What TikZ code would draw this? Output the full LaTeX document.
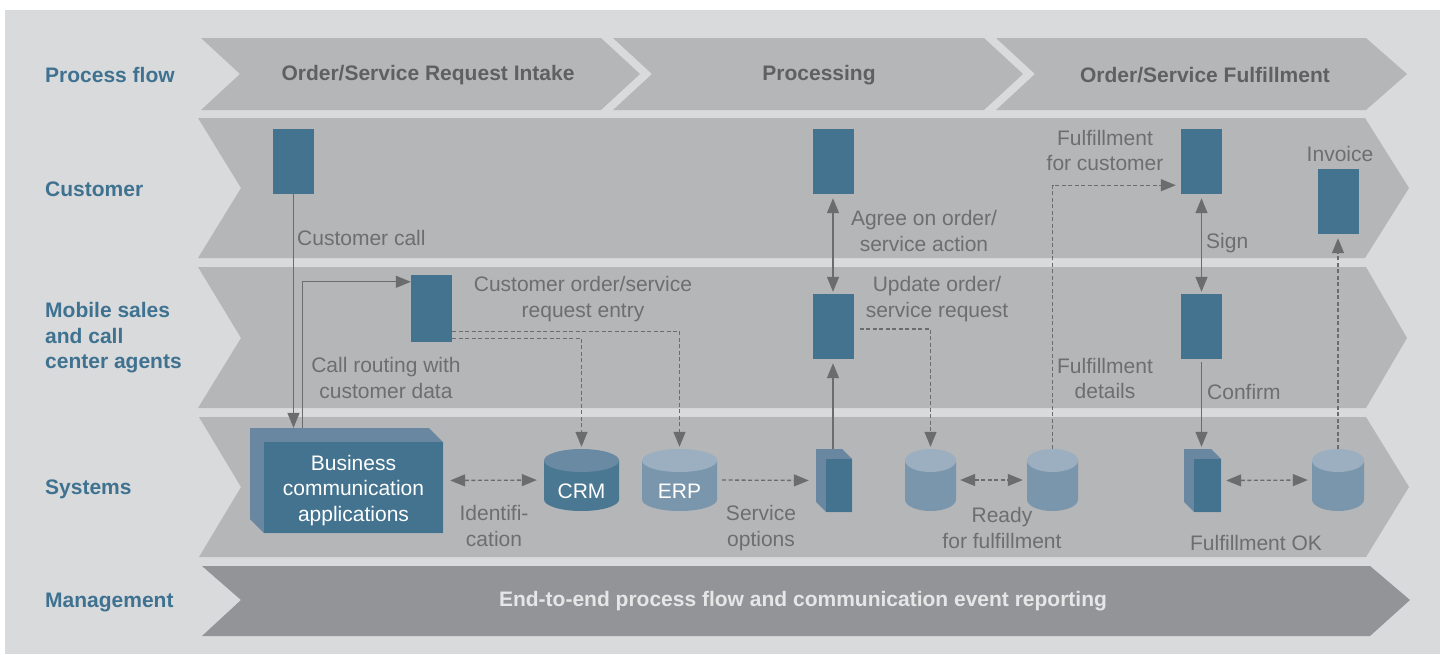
\documentclass[tikz,border=0pt]{standalone}
\usepackage{fontspec}
\setmainfont{Liberation Sans}
\usetikzlibrary{arrows.meta,calc}
\definecolor{bgc}{HTML}{D9DADC}
\definecolor{lanec}{HTML}{B5B6B8}
\definecolor{mgmtc}{HTML}{939497}
\definecolor{tealc}{HTML}{3F7290}
\definecolor{headc}{HTML}{5F6062}
\definecolor{notec}{HTML}{6D6E70}
\definecolor{boxc}{HTML}{43738F}
\definecolor{sidec}{HTML}{6987A1}
\definecolor{crmbody}{HTML}{4A7791}
\definecolor{crmtop}{HTML}{6A8AA4}
\definecolor{dbbody}{HTML}{7A96AD}
\definecolor{dbtop}{HTML}{9CAFC1}
\definecolor{linec}{HTML}{6B6C6E}
\definecolor{mgmttext}{HTML}{E6E6E7}
\newcommand\lblfont{\fontsize{21}{25.5}\selectfont}
\newcommand\cylshape[5]{% cx, half width, body, top
  \fill[#3] (#1-#2,460.5) -- (#1-#2,499.5) arc[start angle=180,end angle=360,x radius=#2pt,y radius=11.5pt] -- (#1+#2,460.5) -- cycle;
  \fill[#4] (#1,460.5) ellipse[x radius=#2pt,y radius=11.5pt];
}
\begin{document}
\begin{tikzpicture}[x=1pt,y=-1pt,
  >={Triangle[length=15pt,width=12pt]},
  lane/.style={fill=lanec},
  rowlbl/.style={anchor=west,text=tealc,font=\bfseries\lblfont,align=left,inner sep=0},
  head/.style={text=headc,font=\bfseries\lblfont,inner sep=0},
  note/.style={text=notec,font=\lblfont,align=center,inner sep=0},
  actbox/.style={fill=boxc,minimum width=41pt,minimum height=65pt,inner sep=0},
  hold/.style={inner sep=0,minimum width=#1},
  conn/.style={draw=linec,line width=1.3pt,->},
  conn2/.style={draw=linec,line width=1.3pt,<->},
  dconn/.style={conn,dash pattern=on 4pt off 2.5pt},
  dconn2/.style={conn2,dash pattern=on 4pt off 2.5pt}]
\useasboundingbox (0,0) rectangle (1440,654);
\fill[bgc] (5,10) rectangle (1440,654);

% process flow chevrons
\fill[lane] (201,38) -- (601,38) -- (640,74) -- (601,110) -- (201,110) -- (240,74) -- cycle;
\fill[lane] (613,38) -- (984,38) -- (1023,74) -- (984,110) -- (613,110) -- (652,74) -- cycle;
\fill[lane] (996,38) -- (1366,38) -- (1407,74) -- (1366,110) -- (996,110) -- (1035,74) -- cycle;
% lanes
\fill[lane] (198,118) -- (1365,118) -- (1409,188) -- (1365,258) -- (198,258) -- (241,188) -- cycle;
\fill[lane] (198,267) -- (1366,267) -- (1407,338) -- (1366,408) -- (198,408) -- (241,338) -- cycle;
\fill[lane] (199,417) -- (1366,417) -- (1409,487) -- (1366,557) -- (199,557) -- (241,487) -- cycle;
\fill[mgmtc] (202,566) -- (1370,566) -- (1410,600) -- (1370,636) -- (202,636) -- (241,600) -- cycle;

% row labels
\node[rowlbl] (lpf) at (45,75) {Process flow};
\node[rowlbl] (lcu) at (45,189) {Customer};
\node[rowlbl] (lmo) at (45,338) {Mobile sales\\and call\\center agents};
\node[rowlbl] (lsy) at (45,489) {Systems};
\node[rowlbl] (lma) at (45,602) {Management};

% headers
\node[head] (h1) at (428,75) {Order/Service Request Intake};
\node[head] (h2) at (819,75) {Processing};
\node[head] (h3) at (1205,75) {Order/Service Fulfillment};
\node[text=mgmttext,font=\bfseries\lblfont,inner sep=0] (mg) at (803,601) {End-to-end process flow and communication event reporting};

% activity boxes
\node[actbox] (c1) at (293.5,161.5) {};
\node[actbox] (c2) at (833,161.5) {};
\node[actbox] (c3) at (1201.5,161.5) {};
\node[actbox] (c4) at (1338,201.5) {};
\node[actbox,minimum height=67pt] (m1) at (431.5,308.5) {};
\node[actbox] (m2) at (833,326.5) {};
\node[actbox] (m3) at (1201.5,326.5) {};

% business communication applications (3D box)
\fill[sidec] (250,428) -- (429,428) -- (443,442) -- (443,533) -- (264,533) -- (250,519) -- cycle;
\fill[boxc] (264,442) rectangle (443,533);
\node[hold=193pt,minimum height=105pt] (bca) at (346.5,480.5) {};
\node[text=white,font=\lblfont,align=center,inner sep=0,text depth=0pt] (bcat) at (353.5,488) {Business\\communication\\applications};

% small system boxes
\fill[sidec] (816,449) -- (842,449) -- (852,459) -- (852,512) -- (826,512) -- (816,502) -- cycle;
\fill[boxc] (826,459) rectangle (852,512);
\node[hold=36pt,minimum height=63pt] (psys) at (834,480.5) {};
\fill[sidec] (1184,449) -- (1211,449) -- (1221,459) -- (1221,512) -- (1194,512) -- (1184,502) -- cycle;
\fill[boxc] (1194,459) rectangle (1221,512);
\node[hold=37pt,minimum height=63pt] (fsys) at (1202.5,480.5) {};

% cylinders
\cylshape{581.5}{37.5}{crmbody}{crmtop}{}
\node[hold=75pt,minimum height=62pt] (crm) at (581.5,480) {};
\node[text=white,font=\lblfont,inner sep=0] (crmt) at (581.5,491) {CRM};
\cylshape{679.5}{37.5}{dbbody}{dbtop}{}
\node[hold=75pt,minimum height=62pt] (erp) at (679.5,480) {};
\node[text=white,font=\lblfont,inner sep=0] (erpt) at (679.5,491) {ERP};
\cylshape{930.5}{25.5}{dbbody}{dbtop}{}
\node[hold=51pt,minimum height=62pt] (cy3) at (930.5,480) {};
\cylshape{1052.5}{25.5}{dbbody}{dbtop}{}
\node[hold=51pt,minimum height=62pt] (cy4) at (1052.5,480) {};
\cylshape{1338}{26}{dbbody}{dbtop}{}
\node[hold=52pt,minimum height=62pt] (cy5) at (1338,480) {};

% connectors
\draw[conn] (c1.south) -- (c1.south |- bca.north);
\draw[conn] ($(bca.north west)+(53,0)$) |- ([yshift=-7pt]m1.north west);
\draw[dconn,shorten >=2pt] ([yshift=11pt]m1.south east) -| (erp.north);
\draw[dconn,shorten >=2pt] ([yshift=4pt]m1.south east) -| (crm.north);
\draw[dconn2,shorten <=7pt,shorten >=7pt] (bca.east) -- (crm.west);
\draw[dconn,shorten <=5pt,shorten >=7pt] (erp.east) -- (psys.west);
\draw[conn,shorten >=4pt] (m2.south |- psys.north) -- (m2.south);
\draw[conn2,shorten <=4pt,shorten >=2pt] (c2.south) -- (m2.north);
\draw[dconn,shorten <=6pt,shorten >=2pt] ([yshift=-2.5pt]m2.east) -| (cy3.north);
\draw[dconn2,shorten <=4pt,shorten >=4pt] (cy3.east) -- (cy4.west);
\draw[dconn,shorten >=5pt] (cy4.north) |- ([yshift=9pt]c3.south west);
\draw[conn2,shorten <=4pt,shorten >=2pt] (c3.south) -- (m3.north);
\draw[conn,shorten <=3pt,shorten >=2pt] (m3.south) -- (m3.south |- fsys.north);
\draw[dconn2,shorten <=5pt,shorten >=4pt] (fsys.east) -- (cy5.west);
\draw[dconn,shorten >=4pt] (cy5.north) -- (c4.south);

% connector labels
\node[note,anchor=west] (n1) at (297,238) {Customer call};
\node[note] (n2) at (386,378) {Call routing with\\customer data};
\node[note] (n3) at (583,299) {Customer order/service\\request entry};
\node[note] (n4) at (494,526) {Identifi-\\cation};
\node[note] (n5) at (761,528) {Service\\options};
\node[note] (n6) at (924,231) {Agree on order/\\service action};
\node[note] (n7) at (937,299) {Update order/\\service request};
\node[note] (n8) at (1105,150.5) {Fulfillment\\for customer};
\node[note] (n9) at (1340,154) {Invoice};
\node[note,anchor=west] (n10) at (1206,243) {Sign};
\node[note] (n11) at (1105,378.5) {Fulfillment\\details};
\node[note,anchor=west] (n12) at (1207,392) {Confirm};
\node[note] (n13) at (1002,528) {Ready\\for fulfillment};
\node[note] (n14) at (1256,543) {Fulfillment OK};
\end{tikzpicture}
\end{document}
